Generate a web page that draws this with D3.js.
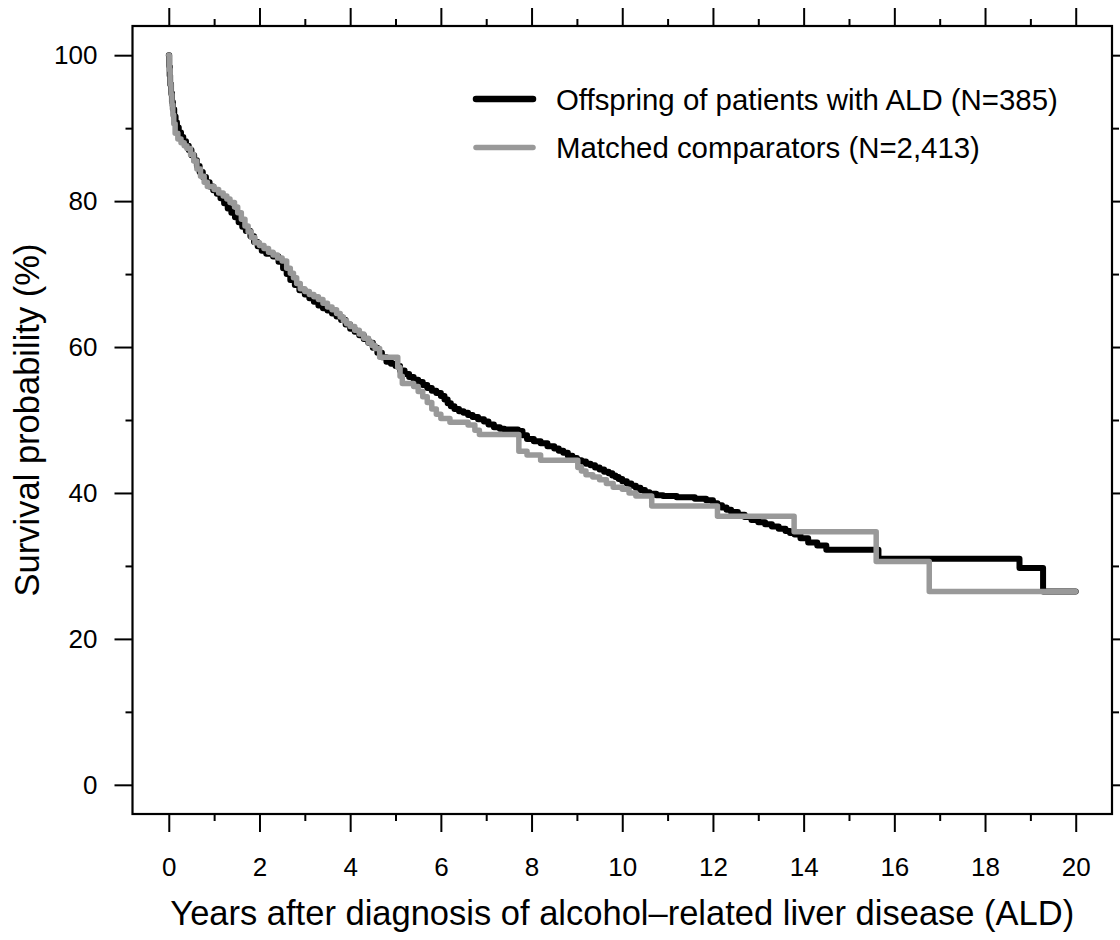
<!DOCTYPE html>
<html>
<head>
<meta charset="utf-8">
<script src="https://cdn.jsdelivr.net/npm/d3@7"></script>
<style>
  body { margin: 0; background: #fff; }
  svg { font-family: "Liberation Sans", Arial, Helvetica, sans-serif; }
</style>
</head>
<body>
<svg id="chart" width="1120" height="940"></svg>
<script>
// Kaplan-Meier estimates: [years, survival %]
var offspringCurve = [
  [0, 100], [0.01, 98.5], [0.02, 97.2], [0.03, 96.0], [0.05, 94.8], [0.07, 93.6],
  [0.09, 92.6], [0.12, 91.6], [0.15, 90.8], [0.18, 90.1], [0.22, 89.4], [0.27, 88.8],
  [0.32, 88.2], [0.38, 87.6], [0.44, 87.0], [0.5, 86.3], [0.56, 85.6], [0.62, 84.8],
  [0.68, 84.0], [0.75, 83.3], [0.82, 82.6], [0.9, 82.0], [0.98, 81.5], [1.06, 81.0],
  [1.14, 80.4], [1.22, 79.7], [1.3, 79.0], [1.38, 78.4], [1.46, 77.8], [1.54, 77.1],
  [1.62, 76.5], [1.7, 75.9], [1.8, 75.2], [1.88, 74.4], [1.96, 73.8], [2.05, 73.2],
  [2.15, 72.8], [2.3, 72.4], [2.42, 71.7], [2.52, 70.8], [2.6, 70.0], [2.68, 69.2],
  [2.78, 68.5], [2.88, 67.8], [3.0, 67.2], [3.1, 66.7], [3.2, 66.2], [3.3, 65.7],
  [3.4, 65.3], [3.5, 65.0], [3.6, 64.6], [3.7, 64.2], [3.8, 63.7], [3.9, 63.1],
  [4.0, 62.5], [4.1, 62.1], [4.2, 61.6], [4.3, 61.1], [4.4, 60.6], [4.5, 59.9],
  [4.6, 59.2], [4.7, 58.6], [4.8, 58.0], [4.9, 57.7], [5.0, 57.4], [5.1, 56.8],
  [5.2, 56.3], [5.3, 55.9], [5.4, 55.5], [5.5, 55.2], [5.6, 54.8], [5.7, 54.4],
  [5.8, 54.0], [5.9, 53.7], [6.0, 53.3], [6.08, 52.8], [6.15, 52.3], [6.22, 51.9],
  [6.3, 51.5], [6.4, 51.2], [6.5, 51.0], [6.6, 50.7], [6.7, 50.4], [6.82, 50.1],
  [6.95, 49.8], [7.05, 49.4], [7.17, 49.0], [7.3, 48.8], [7.4, 48.7], [7.7, 48.5],
  [7.8, 47.9], [7.9, 47.4], [8.05, 47.1], [8.2, 46.8], [8.35, 46.4], [8.5, 46.1],
  [8.6, 45.8], [8.7, 45.5], [8.8, 45.1], [8.9, 44.8], [9.0, 44.5], [9.1, 44.3],
  [9.2, 44.0], [9.3, 43.8], [9.4, 43.5], [9.5, 43.2], [9.6, 42.9], [9.7, 42.7],
  [9.78, 42.4], [9.85, 42.2], [9.92, 41.9], [10.0, 41.6], [10.1, 41.3], [10.2, 41.0],
  [10.3, 40.7], [10.4, 40.4], [10.5, 40.1], [10.6, 39.9], [10.75, 39.7], [10.9, 39.6],
  [11.2, 39.4], [11.6, 39.2], [11.85, 39.0], [12.0, 38.6], [12.1, 38.3], [12.2, 38.0],
  [12.3, 37.7], [12.4, 37.4], [12.55, 37.0], [12.7, 36.7], [12.85, 36.3], [13.0, 36.0],
  [13.15, 35.7], [13.3, 35.4], [13.45, 35.1], [13.6, 34.8], [13.7, 34.5], [13.8, 34.3],
  [13.93, 33.8], [14.1, 33.2], [14.3, 32.8], [14.5, 32.2], [15.65, 31.0], [18.76, 29.7],
  [19.28, 26.5], [20, 26.5]
];

var comparatorCurve = [
  [0, 100], [0.01, 98.0], [0.03, 96.0], [0.05, 94.6], [0.07, 93.2], [0.09, 91.8],
  [0.11, 90.6], [0.14, 89.3], [0.2, 88.5], [0.27, 88.0], [0.34, 87.6], [0.4, 87.2],
  [0.48, 86.4], [0.55, 85.5], [0.62, 84.4], [0.7, 83.4], [0.78, 82.6], [0.85, 82.0],
  [1.0, 81.6], [1.1, 81.1], [1.2, 80.7], [1.28, 80.3], [1.35, 79.8], [1.45, 79.2],
  [1.52, 78.4], [1.6, 77.5], [1.68, 76.6], [1.75, 75.8], [1.82, 75.0], [1.9, 74.3],
  [2.0, 73.9], [2.1, 73.5], [2.2, 73.0], [2.3, 72.6], [2.4, 72.2], [2.5, 71.8],
  [2.6, 70.8], [2.68, 70.1], [2.75, 69.5], [2.82, 68.7], [2.9, 68.0], [3.0, 67.6],
  [3.1, 67.2], [3.2, 66.9], [3.3, 66.5], [3.4, 66.0], [3.5, 65.5], [3.6, 65.1],
  [3.7, 64.6], [3.78, 64.1], [3.85, 63.6], [3.92, 63.2], [4.0, 62.8], [4.1, 62.3],
  [4.2, 61.8], [4.3, 61.2], [4.4, 60.6], [4.48, 60.2], [4.55, 59.8], [4.65, 58.6],
  [5.05, 57.2], [5.1, 56.0], [5.15, 55.0], [5.4, 54.6], [5.5, 53.9], [5.6, 53.2],
  [5.7, 52.4], [5.8, 51.5], [5.9, 50.8], [6.0, 50.2], [6.2, 49.7], [6.6, 49.3],
  [6.75, 48.6], [6.85, 48.0], [7.72, 45.7], [7.9, 45.2], [8.2, 44.5], [9.02, 43.5],
  [9.1, 43.0], [9.2, 42.5], [9.35, 42.2], [9.5, 41.8], [9.65, 41.3], [9.8, 40.8],
  [10.0, 40.5], [10.15, 40.0], [10.3, 39.6], [10.65, 38.2], [12.1, 36.8], [13.79, 34.7],
  [15.6, 30.6], [16.77, 26.5], [20, 26.5]
];

var seriesNames = ["Offspring of patients with ALD (N=385)", "Matched comparators (N=2,413)"];
var seriesColors = ["#000000", "#999999"];

var xMajorTicks = [0, 2, 4, 6, 8, 10, 12, 14, 16, 18, 20];
var xMinorTicks = [1, 3, 5, 7, 9, 11, 13, 15, 17, 19];
var yMajorTicks = [0, 20, 40, 60, 80, 100];
var yMinorTicks = [10, 30, 50, 70, 90];

var xTitle = "Years after diagnosis of alcohol\u2013related liver disease (ALD)";
var yTitle = "Survival probability (%)";

var svg = d3.select("#chart");

// plot box (R style: data range extended by 4% each side)
var box = {left: 132.5, right: 1112, top: 26, bottom: 814};

var x = d3.scaleLinear().domain([-0.8, 20.8]).range([box.left, box.right]);
var y = d3.scaleLinear().domain([-4, 104]).range([box.bottom, box.top]);

function tickAxis(axis, transform, cls) {
  var g = svg.append("g")
      .attr("class", cls)
      .attr("transform", transform)
      .call(axis);
  g.select(".domain").remove();
  g.selectAll(".tick line").attr("stroke", "#000").attr("stroke-width", 2);
  g.selectAll("text").attr("fill", "#000").style("font-size", "26px");
  return g;
}

// bottom
tickAxis(d3.axisBottom(x).tickValues(xMajorTicks).tickSize(18).tickPadding(26).tickFormat(d3.format("d")),
  "translate(0," + box.bottom + ")", "x-axis");
tickAxis(d3.axisBottom(x).tickValues(xMinorTicks).tickSize(7).tickFormat(""),
  "translate(0," + box.bottom + ")", "x-minor");
// top
tickAxis(d3.axisTop(x).tickValues(xMajorTicks).tickSize(18).tickFormat(""),
  "translate(0," + box.top + ")", "x-top");
tickAxis(d3.axisTop(x).tickValues(xMinorTicks).tickSize(7).tickFormat(""),
  "translate(0," + box.top + ")", "x-top-minor");
// left
tickAxis(d3.axisLeft(y).tickValues(yMajorTicks).tickSize(18).tickPadding(17).tickFormat(d3.format("d")),
  "translate(" + box.left + ",0)", "y-axis");
tickAxis(d3.axisLeft(y).tickValues(yMinorTicks).tickSize(7).tickFormat(""),
  "translate(" + box.left + ",0)", "y-minor");
// right
tickAxis(d3.axisRight(y).tickValues(yMajorTicks).tickSize(18).tickFormat(""),
  "translate(" + box.right + ",0)", "y-right");
tickAxis(d3.axisRight(y).tickValues(yMinorTicks).tickSize(7).tickFormat(""),
  "translate(" + box.right + ",0)", "y-right-minor");

svg.append("rect")
    .attr("x", box.left)
    .attr("y", box.top)
    .attr("width", box.right - box.left)
    .attr("height", box.bottom - box.top)
    .attr("fill", "none")
    .attr("stroke", "#000")
    .attr("stroke-width", 2.2);

// survival curves (step functions)
var line = d3.line()
    .x(function(d) { return x(d[0]); })
    .y(function(d) { return y(d[1]); })
    .curve(d3.curveStepAfter);

svg.append("path")
    .datum(offspringCurve)
    .attr("d", line)
    .attr("fill", "none")
    .attr("stroke", seriesColors[0])
    .attr("stroke-width", 6)
    .attr("stroke-linejoin", "round")
    .attr("stroke-linecap", "round");

svg.append("path")
    .datum(comparatorCurve)
    .attr("d", line)
    .attr("fill", "none")
    .attr("stroke", seriesColors[1])
    .attr("stroke-width", 5.5)
    .attr("stroke-linejoin", "round")
    .attr("stroke-linecap", "round");

// legend
var legend = svg.append("g").attr("class", "legend");
seriesNames.forEach(function(name, i) {
  var ly = 99 + i * 48.5;
  legend.append("line")
      .attr("x1", 476).attr("x2", 533)
      .attr("y1", ly).attr("y2", ly)
      .attr("stroke", seriesColors[i])
      .attr("stroke-width", i === 0 ? 6.5 : 5.5)
      .attr("stroke-linecap", "round");
  legend.append("text")
      .attr("x", 556)
      .attr("y", ly)
      .attr("dy", "0.36em")
      .style("font-size", "29.4px")
      .text(name);
});

// axis titles
svg.append("text")
    .attr("x", (box.left + box.right) / 2)
    .attr("y", 925)
    .attr("text-anchor", "middle")
    .style("font-size", "34.5px")
    .text(xTitle);

svg.append("text")
    .attr("transform", "translate(39," + ((box.top + box.bottom) / 2) + ") rotate(-90)")
    .attr("text-anchor", "middle")
    .style("font-size", "34.5px")
    .text(yTitle);
</script>
</body>
</html>
